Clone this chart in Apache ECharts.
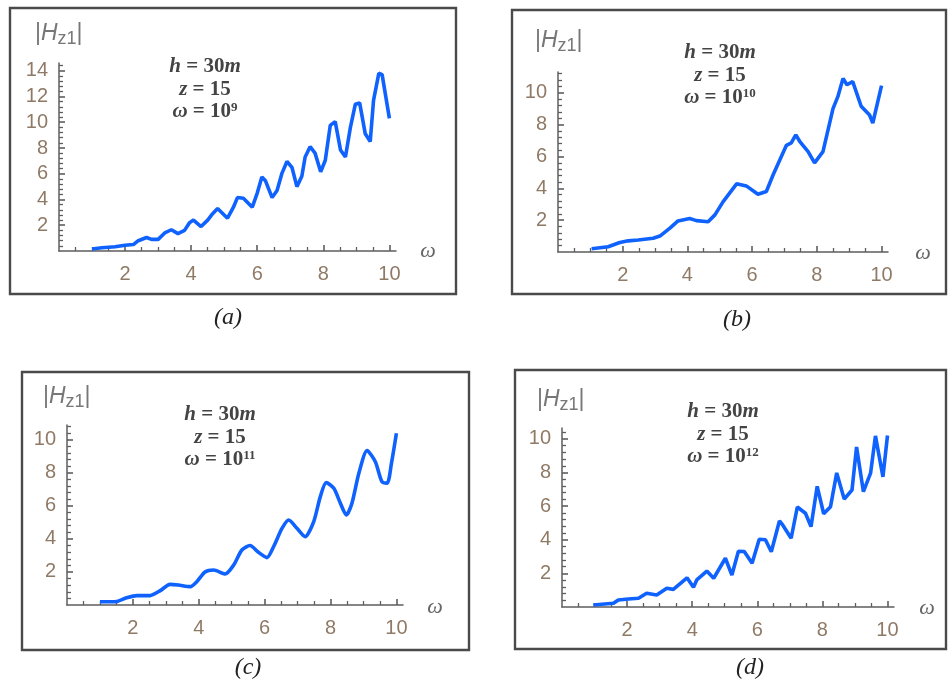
<!DOCTYPE html>
<html><head><meta charset="utf-8">
<script src="https://cdn.jsdelivr.net/npm/echarts@6/dist/echarts.min.js"></script>
<style>html,body{margin:0;padding:0;background:#fff}#c{width:948px;height:685px}</style>
</head><body><div id="c"></div>
<script>
// ---- data ----
const xTicks = [2, 4, 6, 8, 10];
const yTicksA = [2, 4, 6, 8, 10, 12, 14];
const yTicksBCD = [2, 4, 6, 8, 10];
const exponents = ['9', '10', '11', '12'];
const panelNames = ['(a)', '(b)', '(c)', '(d)'];

const dataA = [[1.0,0.15],[1.3,0.25],[1.7,0.33],[2.0,0.45],[2.25,0.5],[2.4,0.8],[2.65,1.05],[2.8,0.9],[3.0,0.9],[3.2,1.4],[3.4,1.65],[3.6,1.35],[3.8,1.6],[3.95,2.2],[4.07,2.4],[4.3,1.9],[4.5,2.4],[4.65,2.9],[4.8,3.3],[5.1,2.55],[5.28,3.4],[5.4,4.15],[5.58,4.1],[5.85,3.4],[6.0,4.5],[6.14,5.75],[6.25,5.45],[6.45,4.15],[6.6,4.7],[6.75,6.05],[6.9,6.95],[7.05,6.5],[7.2,5.0],[7.35,5.8],[7.45,7.3],[7.6,8.1],[7.75,7.6],[7.92,6.15],[8.06,7.05],[8.21,9.75],[8.36,10.05],[8.52,7.85],[8.67,7.3],[8.82,9.6],[8.97,11.4],[9.1,11.5],[9.27,9.1],[9.42,8.5],[9.52,11.7],[9.68,13.8],[9.78,13.7],[10.0,10.3]];

const dataB = [[1.04,0.2],[1.55,0.33],[1.91,0.6],[2.17,0.7],[2.48,0.75],[2.94,0.86],[3.15,1.0],[3.46,1.5],[3.71,1.95],[4.07,2.1],[4.28,1.97],[4.64,1.9],[4.85,2.33],[5.1,3.15],[5.52,4.28],[5.82,4.15],[6.18,3.63],[6.44,3.8],[6.65,4.85],[7.06,6.7],[7.21,6.85],[7.35,7.35],[7.47,6.95],[7.73,6.3],[7.93,5.6],[8.19,6.3],[8.5,9.0],[8.65,9.75],[8.81,10.9],[8.93,10.5],[9.11,10.7],[9.37,9.15],[9.63,8.6],[9.73,8.1],[10.0,10.45]];

const dataC = [[1.0,0.2],[1.46,0.2],[1.81,0.44],[2.12,0.57],[2.52,0.57],[2.83,0.87],[3.13,1.25],[3.38,1.21],[3.74,1.11],[3.94,1.41],[4.19,2.0],[4.45,2.12],[4.8,1.88],[5.06,2.42],[5.31,3.33],[5.56,3.6],[5.81,3.19],[6.07,2.87],[6.27,3.53],[6.53,4.65],[6.73,5.15],[6.98,4.65],[7.23,4.14],[7.49,5.05],[7.69,6.56],[7.87,7.41],[8.1,7.07],[8.3,6.16],[8.48,5.45],[8.65,6.16],[8.86,7.98],[9.11,9.35],[9.36,8.68],[9.56,7.47],[9.72,7.38],[9.85,8.59],[10.0,10.4]];

const dataD = [[0.96,0.12],[1.58,0.22],[1.73,0.42],[2.04,0.48],[2.35,0.52],[2.6,0.82],[2.91,0.71],[3.22,1.11],[3.42,1.05],[3.84,1.74],[4.04,1.17],[4.14,1.61],[4.45,2.14],[4.66,1.71],[5.02,2.9],[5.22,1.9],[5.42,3.32],[5.6,3.3],[5.84,2.6],[6.06,4.03],[6.25,4.0],[6.43,3.29],[6.68,5.12],[6.78,4.88],[7.04,4.09],[7.23,5.95],[7.48,5.58],[7.65,4.78],[7.84,7.18],[8.04,5.55],[8.25,5.97],[8.44,7.98],[8.67,6.42],[8.91,6.96],[9.05,9.52],[9.26,6.86],[9.48,7.96],[9.63,10.18],[9.86,7.74],[10.0,10.2]];

const seriesData = [dataA, dataB, dataC, dataD];

// ---- layout ----
const grids = [
  {left: 59,  top: 63,  width: 337, height: 188, ymax: 14.6, yTicks: yTicksA},
  {left: 558, top: 72,  width: 330, height: 180, ymax: 11.3, yTicks: yTicksBCD},
  {left: 67,  top: 425, width: 336, height: 180, ymax: 10.9, yTicks: yTicksBCD},
  {left: 562, top: 428, width: 332, height: 179, ymax: 10.65, yTicks: yTicksBCD}
];
const frames = [[10,8,446,286],[512,10,434,284],[22,372,447,278],[515,370,431,279]];
const hLab = [[35,34],[535,41],[43,397],[537,400]];
const annot = [[205,67],[720,53],[220,415],[723,412]];
const omegaLab = [[428,251],[923,253],[435,607],[927,608]];
const subLab = [[228,318],[737,320],[248,668],[750,668]];

const tickColor = '#8f7a66';
const axisColor = '#5e5e5e';
const xAxes = [], yAxes = [], series = [], graphic = [];

grids.forEach((g, i) => {
  xAxes.push({
    type: 'value', gridIndex: i, min: 0, max: 10.2, interval: 2, position: 'bottom',
    axisLine: {show: true, onZero: false, lineStyle: {color: axisColor, width: 1.5}},
    axisTick: {show: true, inside: true, length: 6, customValues: xTicks, lineStyle: {color: axisColor, width: 1.6}},
    minorTick: {show: true, splitNumber: 4, length: 4, lineStyle: {color: axisColor, width: 1.3}},
    axisLabel: {show: true, customValues: xTicks, margin: 13, color: tickColor, fontFamily: 'Liberation Sans', fontSize: 20},
    splitLine: {show: false}, minorSplitLine: {show: false}
  });
  yAxes.push({
    type: 'value', gridIndex: i, min: 0, max: g.ymax, interval: 2, position: 'left',
    axisLine: {show: true, onZero: false, lineStyle: {color: axisColor, width: 1.5}},
    axisTick: {show: true, inside: true, length: 6, customValues: g.yTicks, lineStyle: {color: axisColor, width: 1.6}},
    minorTick: {show: true, splitNumber: 5, length: 4, lineStyle: {color: axisColor, width: 1.3}},
    axisLabel: {show: true, customValues: g.yTicks, margin: 11, color: tickColor, fontFamily: 'Liberation Sans', fontSize: 20},
    splitLine: {show: false}, minorSplitLine: {show: false}
  });
  series.push({
    type: 'line', xAxisIndex: i, yAxisIndex: i, data: seriesData[i],
    showSymbol: false, smooth: i === 2 ? 0.25 : false,
    lineStyle: {color: '#0f62fe', width: 3.6}, silent: true
  });

  const f = frames[i];
  graphic.push({type: 'rect', shape: {x: f[0], y: f[1], width: f[2], height: f[3]},
    style: {fill: 'none', stroke: '#4a4a4a', lineWidth: 2.4}, z: 10});

  graphic.push({type: 'text', x: hLab[i][0], y: hLab[i][1], z: 10, style: {
    text: '{a||}{h|H}{s|z1}{a||}', align: 'left', verticalAlign: 'middle',
    fill: '#777', font: '23px "Liberation Sans"',
    rich: {
      a: {fontSize: 23, fontFamily: 'Liberation Sans', fill: '#777', lineHeight: 28},
      h: {fontSize: 23, fontFamily: 'Liberation Sans', fontStyle: 'italic', fill: '#777', lineHeight: 28},
      s: {fontSize: 18, fontFamily: 'Liberation Sans', fill: '#777', verticalAlign: 'bottom', lineHeight: 28}
    }}});

  const ax = annot[i][0], ay = annot[i][1];
  const serifRich = {
    n: {fontSize: 21, fontFamily: 'Liberation Serif', fontWeight: 'bold', fill: '#444', lineHeight: 22},
    i: {fontSize: 21, fontFamily: 'Liberation Serif', fontStyle: 'italic', fontWeight: 'bold', fill: '#444', lineHeight: 22},
    sup: {fontSize: 13, fontFamily: 'Liberation Serif', fontWeight: 'bold', fill: '#444', verticalAlign: 'top', lineHeight: 22}
  };
  const lines = ['{i|h}{n| = 30}{i|m}', '{i|z}{n| = 15}', '{i|ω}{n| = 10}{sup|' + exponents[i] + '}'];
  lines.forEach((t, k) => {
    graphic.push({type: 'text', x: ax, y: ay + k * 22.5, z: 10, style: {
      text: t, align: 'center', verticalAlign: 'middle', fill: '#444',
      font: 'bold 21px "Liberation Serif"', rich: serifRich}});
  });

  graphic.push({type: 'text', x: omegaLab[i][0], y: omegaLab[i][1], z: 10, style: {
    text: 'ω', align: 'center', verticalAlign: 'middle', fill: '#666',
    font: 'italic 22px "Liberation Serif"'}});

  graphic.push({type: 'text', x: subLab[i][0], y: subLab[i][1], z: 10, style: {
    text: panelNames[i], align: 'center', verticalAlign: 'middle', fill: '#222',
    font: 'italic 24px "Liberation Serif"'}});
});

const chart = echarts.init(document.getElementById('c'), null, {renderer: 'canvas'});
chart.setOption({
  animation: false,
  backgroundColor: '#fff',
  grid: grids.map(g => ({left: g.left, top: g.top, width: g.width, height: g.height, containLabel: false})),
  xAxis: xAxes,
  yAxis: yAxes,
  series: series,
  graphic: graphic
});
</script>
</body></html>
